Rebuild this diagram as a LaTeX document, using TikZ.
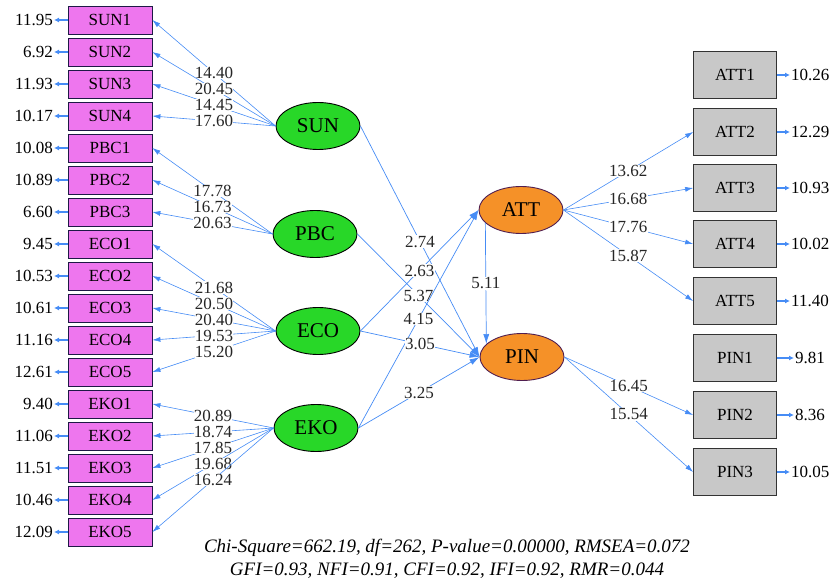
\documentclass[tikz,border=0pt]{standalone}
\usepackage{fontspec}
\setmainfont{Liberation Serif}
\usetikzlibrary{arrows.meta,shapes.geometric}
\definecolor{obsmag}{RGB}{238,118,238}
\definecolor{obsgray}{RGB}{200,200,200}
\definecolor{exogreen}{RGB}{40,215,40}
\definecolor{endoorange}{RGB}{245,145,40}
\definecolor{pathblue}{RGB}{70,140,245}
\definecolor{edgenavy}{RGB}{30,25,70}
\definecolor{edgeplum}{RGB}{80,30,80}

\begin{document}
\begin{tikzpicture}[x=1pt, y=-1pt,
  indl/.style={rectangle, draw=edgenavy, fill=obsmag, line width=0.8pt,
               minimum width=84pt, minimum height=28pt, inner sep=0pt,
               font=\fontsize{17}{19}\selectfont},
  indr/.style={rectangle, draw=black!80, fill=obsgray, line width=0.8pt,
               minimum width=83pt, minimum height=47pt, inner sep=0pt,
               font=\fontsize{17}{19}\selectfont},
  exo/.style={ellipse, draw=black, fill=exogreen, line width=0.9pt,
              minimum width=84pt, minimum height=47pt, inner sep=0pt,
              font=\fontsize{21}{23}\selectfont},
  endo/.style={ellipse, draw=edgeplum, fill=endoorange, line width=0.9pt,
               minimum width=84pt, minimum height=47pt, inner sep=0pt,
               font=\fontsize{21}{23}\selectfont},
  err/.style={font=\fontsize{17}{19}\selectfont, inner sep=1pt},
  errarr/.style={-{Latex[length=5pt,width=5pt]}, pathblue, line width=1.6pt},   % error term
  load/.style={-{Latex[length=8pt,width=5pt]}, pathblue, line width=0.6pt},     % loading
  struct/.style={-{Latex[length=10pt,width=6pt]}, pathblue, line width=0.7pt},  % path
  coef/.style={font=\fontsize{17}{19}\selectfont, text=black!85, fill=white, inner sep=0.3pt},
]
\useasboundingbox (0,0) rectangle (835,585);

% Latent variables
\node[exo]  (SUN) at (318,126) {SUN};
\node[exo]  (PBC) at (315,234) {PBC};
\node[exo]  (ECO) at (318,331) {ECO};
\node[exo]  (EKO) at (316,428) {EKO};
\node[endo] (ATT) at (521,210) {ATT};
\node[endo] (PIN) at (522,357) {PIN};

% Left indicators with error variances
\node[indl] (sun1) at (110,20)  {SUN1}; \node[err, anchor=east] (esun1) at (54,20)  {11.95};
\node[indl] (sun2) at (110,52)  {SUN2}; \node[err, anchor=east] (esun2) at (54,52)  {6.92};
\node[indl] (sun3) at (110,84)  {SUN3}; \node[err, anchor=east] (esun3) at (54,84)  {11.93};
\node[indl] (sun4) at (110,116) {SUN4}; \node[err, anchor=east] (esun4) at (54,116) {10.17};
\node[indl] (pbc1) at (110,148) {PBC1}; \node[err, anchor=east] (epbc1) at (54,148) {10.08};
\node[indl] (pbc2) at (110,180) {PBC2}; \node[err, anchor=east] (epbc2) at (54,180) {10.89};
\node[indl] (pbc3) at (110,212) {PBC3}; \node[err, anchor=east] (epbc3) at (54,212) {6.60};
\node[indl] (eco1) at (110,244) {ECO1}; \node[err, anchor=east] (eeco1) at (54,244) {9.45};
\node[indl] (eco2) at (110,276) {ECO2}; \node[err, anchor=east] (eeco2) at (54,276) {10.53};
\node[indl] (eco3) at (110,308) {ECO3}; \node[err, anchor=east] (eeco3) at (54,308) {10.61};
\node[indl] (eco4) at (110,340) {ECO4}; \node[err, anchor=east] (eeco4) at (54,340) {11.16};
\node[indl] (eco5) at (110,372) {ECO5}; \node[err, anchor=east] (eeco5) at (54,372) {12.61};
\node[indl] (eko1) at (110,404) {EKO1}; \node[err, anchor=east] (eeko1) at (54,404) {9.40};
\node[indl] (eko2) at (110,436) {EKO2}; \node[err, anchor=east] (eeko2) at (54,436) {11.06};
\node[indl] (eko3) at (110,468) {EKO3}; \node[err, anchor=east] (eeko3) at (54,468) {11.51};
\node[indl] (eko4) at (110,500) {EKO4}; \node[err, anchor=east] (eeko4) at (54,500) {10.46};
\node[indl] (eko5) at (110,532) {EKO5}; \node[err, anchor=east] (eeko5) at (54,532) {12.09};

\foreach \v in {sun1,sun2,sun3,sun4,pbc1,pbc2,pbc3,eco1,eco2,eco3,eco4,eco5,
                eko1,eko2,eko3,eko4,eko5}
  \draw[errarr] (\v) -- (e\v);

% Right indicators with error variances
\node[indr] (att1) at (735,75)  {ATT1}; \node[err, anchor=west] (eatt1) at (790,75)  {10.26};
\node[indr] (att2) at (735,132) {ATT2}; \node[err, anchor=west] (eatt2) at (790,132) {12.29};
\node[indr] (att3) at (735,188) {ATT3}; \node[err, anchor=west] (eatt3) at (790,188) {10.93};
\node[indr] (att4) at (735,244) {ATT4}; \node[err, anchor=west] (eatt4) at (790,244) {10.02};
\node[indr] (att5) at (735,301) {ATT5}; \node[err, anchor=west] (eatt5) at (790,301) {11.40};
\node[indr] (pin1) at (735,358) {PIN1}; \node[err, anchor=west] (epin1) at (794,358) {9.81};
\node[indr] (pin2) at (735,415) {PIN2}; \node[err, anchor=west] (epin2) at (794,415) {8.36};
\node[indr] (pin3) at (735,472) {PIN3}; \node[err, anchor=west] (epin3) at (790,472) {10.05};

\foreach \v in {att1,att2,att3,att4,att5,pin1,pin2,pin3}
  \draw[errarr] (\v) -- (e\v);

% Loadings, left
\draw[load] (SUN.west) -- node[coef]{14.40} (sun1.east);
\draw[load] (SUN.west) -- node[coef]{20.45} (sun2.east);
\draw[load] (SUN.west) -- node[coef]{14.45} (sun3.east);
\draw[load] (SUN.west) -- node[coef]{17.60} (sun4.east);
\draw[load] (PBC.west) -- node[coef]{17.78} (pbc1.east);
\draw[load] (PBC.west) -- node[coef]{16.73} (pbc2.east);
\draw[load] (PBC.west) -- node[coef]{20.63} (pbc3.east);
\draw[load] (ECO.west) -- node[coef]{21.68} (eco1.east);
\draw[load] (ECO.west) -- node[coef]{20.50} (eco2.east);
\draw[load] (ECO.west) -- node[coef]{20.40} (eco3.east);
\draw[load] (ECO.west) -- node[coef]{19.53} (eco4.east);
\draw[load] (ECO.west) -- node[coef]{15.20} (eco5.east);
\draw[load] (EKO.west) -- node[coef]{20.89} (eko1.east);
\draw[load] (EKO.west) -- node[coef]{18.74} (eko2.east);
\draw[load] (EKO.west) -- node[coef]{17.85} (eko3.east);
\draw[load] (EKO.west) -- node[coef]{19.68} (eko4.east);
\draw[load] (EKO.west) -- node[coef]{16.24} (eko5.east);

% Loadings, right
\draw[load] (ATT.east) -- node[coef]{13.62} (att2.west);
\draw[load] (ATT.east) -- node[coef]{16.68} (att3.west);
\draw[load] (ATT.east) -- node[coef]{17.76} (att4.west);
\draw[load] (ATT.east) -- node[coef]{15.87} (att5.west);
\draw[load] (PIN.east) -- node[coef]{16.45} (pin2.west);
\draw[load] (PIN.east) -- node[coef]{15.54} (pin3.west);

% Structural paths
\draw[struct] (SUN.east) -- node[coef]{2.74} (PIN.west);
\draw[struct] (ECO.east) -- node[coef]{2.63} (ATT.west);
\draw[struct] (PBC.east) -- node[coef]{5.37} (PIN.west);
\draw[struct] (EKO.east) -- node[coef]{4.15} (ATT.west);
\draw[struct] (ECO.east) -- node[coef]{3.05} (PIN.west);
\draw[struct] (EKO.east) -- node[coef]{3.25} (PIN.west);
\draw[struct] (ATT.200) -- node[coef]{5.11} (PIN.160);

% Fit statistics
\node[font=\fontsize{19}{23}\selectfont\itshape, align=center] (fit) at (447,559)
  {Chi-Square=662.19, df=262, P-value=0.00000, RMSEA=0.072\\
   GFI=0.93, NFI=0.91, CFI=0.92, IFI=0.92, RMR=0.044};

\end{tikzpicture}
\end{document}
